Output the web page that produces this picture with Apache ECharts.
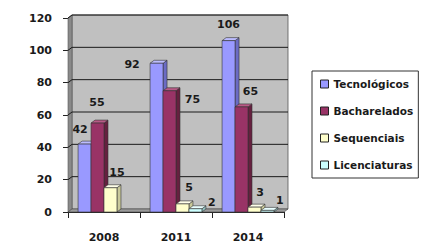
<!DOCTYPE html>
<html>
<head>
<meta charset="utf-8">
<script src="https://cdn.jsdelivr.net/npm/echarts@6/dist/echarts.min.js"></script>
<style>html,body{margin:0;padding:0;background:#fff}#c{width:439px;height:247px}</style>
</head>
<body>
<div id="c"></div>
<script>
// ---- data ----
const categories = ['2008', '2011', '2014'];
const seriesNames = ['Tecnológicos', 'Bacharelados', 'Sequenciais', 'Licenciaturas'];
const tecnologicos = [42, 92, 106];
const bacharelados = [55, 75, 65];
const sequenciais = [15, 5, 3];
const licenciaturas = [0, 2, 1];
const yTicks = [0, 20, 40, 60, 80, 100, 120];

// ---- styling / layout (not data) ----
const FONT = 'bold 11px "DejaVu Sans"';
const faceColors = [
  {front: '#9999ff', top: '#bcbcff', side: '#6b6bc4'},
  {front: '#993366', top: '#b85a86', side: '#66203f'},
  {front: '#ffffcc', top: '#ffffea', side: '#c9c99a'},
  {front: '#ccffff', top: '#eaffff', side: '#94c4c4'}
];
// label nudges relative to the bar's front-top centre (px), mimicking the reference placement
const labelNudge = [
  [[-4.5, -15], [-24.5, 1], [0, -16]],
  [[-0.5, -21], [23, 8.5], [9, -15.5]],
  [[6.5, -15.5], [6.5, -16], [5.5, -15]],
  [[0, 0], [16.5, -6.5], [12.5, -10]]
];
const DX = 4, DY = 3; // 3D depth
const allValues = [tecnologicos, bacharelados, sequenciais, licenciaturas];

function barRenderer(si) {
  return function (params, api) {
    const c = api.value(0), v = api.value(1);
    const band = api.size([1, 0])[0];
    const bw = band * 0.18;
    const center = api.coord([c, 0]);
    const topPt = api.coord([c, v]);
    const x0 = center[0] - 2 * bw + si * bw, x1 = x0 + bw;
    const yb = center[1], yt = topPt[1];
    const col = faceColors[si];
    const children = [];
    if (v > 0) {
      children.push({type: 'polygon', shape: {points: [[x1, yt], [x1 + DX, yt - DY], [x1 + DX, yb - DY], [x1, yb]]},
        style: {fill: col.side, stroke: '#333', lineWidth: 0.6}});
      children.push({type: 'polygon', shape: {points: [[x0, yt], [x0 + DX, yt - DY], [x1 + DX, yt - DY], [x1, yt]]},
        style: {fill: col.top, stroke: '#333', lineWidth: 0.6}});
      children.push({type: 'rect', shape: {x: x0, y: yt, width: bw, height: yb - yt},
        style: {fill: col.front, stroke: '#333', lineWidth: 0.6}});
      const n = labelNudge[si][params.dataIndex];
      children.push({type: 'text', z2: 10, style: {text: String(v), x: (x0 + x1) / 2 + n[0], y: yt + n[1],
        align: 'center', verticalAlign: 'middle', font: FONT, fill: '#1a1a1a'}});
    }
    return {type: 'group', children: children};
  };
}

function wallRenderer(params, api) {
  const p0 = api.coord([0, 0]);
  const band = api.size([1, 0])[0];
  const xl = p0[0] - band / 2, xr = xl + band * categories.length;
  const yb = p0[1];
  const yt = api.coord([0, yTicks[yTicks.length - 1]])[1];
  const ch = [];
  ch.push({type: 'rect', shape: {x: xl + DX, y: yt - DY, width: xr - xl, height: yb - yt},
    style: {fill: '#c0c0c0', stroke: '#555', lineWidth: 0.8}});
  ch.push({type: 'polygon', shape: {points: [[xl, yt], [xl + DX, yt - DY], [xl + DX, yb - DY], [xl, yb]]},
    style: {fill: '#8a8a8a', stroke: '#555', lineWidth: 0.6}});
  ch.push({type: 'polygon', shape: {points: [[xl, yb], [xl + DX, yb - DY], [xr + DX, yb - DY], [xr, yb]]},
    style: {fill: '#9a9a9a', stroke: '#444', lineWidth: 0.6}});
  yTicks.forEach(function (t) {
    if (t === 0) return;
    const y = api.coord([0, t])[1];
    ch.push({type: 'polyline', shape: {points: [[xl, y], [xl + DX, y - DY], [xr + DX, y - DY]]},
      style: {stroke: '#1a1a1a', lineWidth: 1, fill: null}});
  });
  return {type: 'group', children: ch};
}

const series = [{
  name: 'wall', type: 'custom', renderItem: wallRenderer, data: [[0, 0]], silent: true, z: 1, clip: false
}];
seriesNames.forEach(function (name, si) {
  series.push({
    name: name, type: 'custom', z: 2 + si, clip: false,
    itemStyle: {color: faceColors[si].front},
    renderItem: barRenderer(si),
    data: allValues[si].map(function (v, i) { return [i, v]; })
  });
});

const chart = echarts.init(document.getElementById('c'), null, {renderer: 'svg'});
chart.setOption({
  animation: false,
  backgroundColor: '#ffffff',
  grid: {left: 68, right: 155, top: 18, bottom: 35},
  xAxis: {
    type: 'category', data: categories,
    axisLine: {lineStyle: {color: '#222', width: 1}},
    axisTick: {show: true, length: 6, lineStyle: {color: '#222'}},
    axisLabel: {margin: 20, color: '#1a1a1a', fontFamily: 'DejaVu Sans', fontWeight: 'bold', fontSize: 11}
  },
  yAxis: {
    type: 'value', min: 0, max: 120, interval: 20,
    axisLine: {show: true, lineStyle: {color: '#222', width: 1}},
    axisTick: {show: true, length: 5, lineStyle: {color: '#222'}},
    splitLine: {show: false},
    axisLabel: {margin: 16, color: '#1a1a1a', fontFamily: 'DejaVu Sans', fontWeight: 'bold', fontSize: 11}
  },
  legend: {
    orient: 'vertical', left: 312, top: 71,
    borderColor: '#333', borderWidth: 1, padding: [6, 5, 6, 8],
    itemWidth: 8, itemHeight: 8, itemGap: 13, itemTextGap: 4, icon: 'rect',
    textStyle: {fontFamily: 'DejaVu Sans', fontWeight: 'bold', fontSize: 10.5, color: '#1a1a1a', lineHeight: 14},
    data: seriesNames.map(function (n, i) {
      return {name: n, itemStyle: {color: faceColors[i].front, borderColor: '#222', borderWidth: 1}};
    })
  },
  series: series
});
</script>
</body>
</html>
